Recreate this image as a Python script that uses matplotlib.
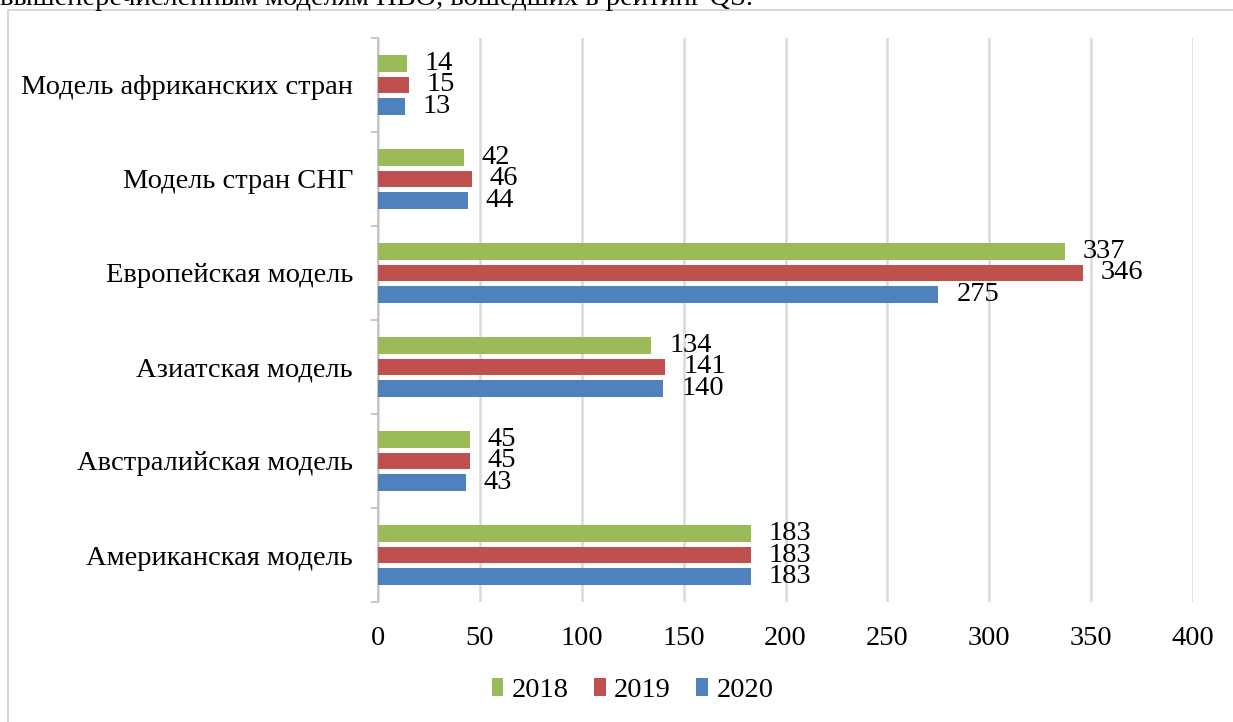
import matplotlib.pyplot as plt
import matplotlib.patches as mpatches
import numpy as np

plt.rcParams['font.family'] = ['Liberation Serif', 'DejaVu Serif']

categories = ["Американская модель", "Австралийская модель", "Азиатская модель",
              "Европейская модель", "Модель стран СНГ", "Модель африканских стран"]
years = ["2018", "2019", "2020"]
v2018 = [183, 45, 134, 337, 42, 14]
v2019 = [183, 45, 141, 346, 46, 15]
v2020 = [183, 43, 140, 275, 44, 13]
colors = ["#9BBB59", "#C0504D", "#4F81BD"]
x_ticks = [0, 50, 100, 150, 200, 250, 300, 350, 400]

fs = 20.5

fig = plt.figure(figsize=(12.33, 7.22), dpi=100)
ax = fig.add_axes([0.3066, 0.1662, 0.9676 - 0.3066, 0.9474 - 0.1662])

# outer chart frame (partly cut off on the right and bottom)
frame = mpatches.Rectangle((8 / 1233, -0.05), 1.1, 1 - 10 / 722 + 0.05,
                           transform=fig.transFigure, fill=False,
                           edgecolor="#d0d0d0", linewidth=1.2, zorder=0)
fig.patches.append(frame)

# clipped caption line from the document above the chart
fig.text(0.0, 1 - 5 / 722, "вышеперечисленным моделям НВО, вошедших в рейтинг QS.",
         fontsize=fs, va="baseline", ha="left")

y = np.arange(len(categories))
pitch = 0.229
h = 0.18
series = [v2018, v2019, v2020]
for i, (vals, col, yr) in enumerate(zip(series, colors, years)):
    pos = y + pitch * (1 - i)
    ax.barh(pos, vals, height=h, color=col, label=yr, zorder=3)
    for p, v in zip(pos, vals):
        ax.annotate(str(v), (v, p), xytext=(18, 0), textcoords="offset pixels",
                    ha="left", va="center", fontsize=fs, zorder=4)

ax.set_xlim(0, 400)
ax.set_ylim(-0.5, len(categories) - 0.5)
ax.set_xticks(x_ticks)
ax.set_xticklabels([str(t) for t in x_ticks])
ax.set_yticks(y)
ax.set_yticklabels(categories)
ax.set_yticks(np.arange(-0.5, len(categories), 1.0), minor=True)
ax.tick_params(axis="y", which="major", length=0, pad=18, labelsize=fs)
ax.tick_params(axis="y", which="minor", length=5, width=1.2, color="#bfbfbf")
ax.tick_params(axis="x", length=0, pad=17, labelsize=fs)

ax.grid(axis="x", color="#d9d9d9", linewidth=1.8, zorder=0)
for s in ["top", "right", "bottom"]:
    ax.spines[s].set_visible(False)
ax.spines["left"].set_color("#bfbfbf")
ax.spines["left"].set_linewidth(1.2)

fig.legend(loc="center", bbox_to_anchor=(0.513, 0.044), ncol=3,
           frameon=False, fontsize=fs, handlelength=0.4,
           handleheight=0.6, handletextpad=0.3, columnspacing=0.9)

fig.savefig("out.png", dpi=100)
